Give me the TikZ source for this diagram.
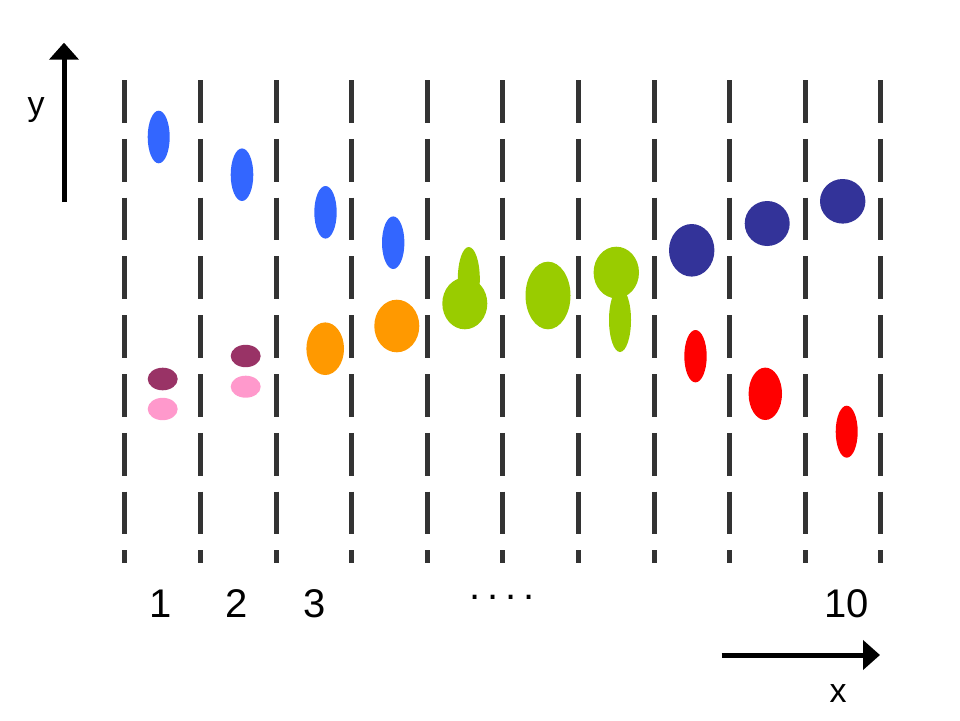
\documentclass[tikz,border=0pt]{standalone}
\usepackage{fontspec}
\setmainfont{Liberation Sans}
\usetikzlibrary{arrows.meta,shapes.geometric}
\definecolor{cblue}{HTML}{3366FF}
\definecolor{cmaroon}{HTML}{993366}
\definecolor{cpink}{HTML}{FF99CC}
\definecolor{corange}{HTML}{FF9900}
\definecolor{cgreen}{HTML}{99CC00}
\definecolor{cnavy}{HTML}{333399}
\definecolor{cred}{HTML}{FF0000}
\definecolor{cgrid}{HTML}{333333}
\tikzset{
  blob/.style={ellipse, inner sep=0pt, outer sep=0pt, draw=none},
  bl/.style 2 args={blob, minimum width=#1pt, minimum height=#2pt},
  gridline/.style={draw=cgrid, line width=5pt, dash pattern=on 42.8pt off 16pt},
  axis/.style={line width=5pt, -{Triangle[length=17pt,width=29pt]}},
  numlab/.style={font=\fontsize{40}{40}\selectfont, anchor=base, inner sep=0pt},
  axlab/.style={font=\fontsize{34}{34}\selectfont, anchor=base, inner sep=0pt}
}
\begin{document}
\begin{tikzpicture}[x=1pt,y=-1pt]
\useasboundingbox (0,0) rectangle (960,720);
% dashed column lines
\foreach \i/\xx in {0/124.5,1/200,2/276,3/351.5,4/427,5/502.5,6/578,7/654,8/729.5,9/805,10/880.5}{
  \coordinate (t\i) at (\xx,80);
  \coordinate (b\i) at (\xx,563);
  \draw[gridline] (t\i) -- (b\i);
}
% column 1
\node[bl={22}{52.6}, fill=cblue] (blue1) at (158.7,137) {};
\node[bl={30}{22.6}, fill=cmaroon] (mar1) at (162.7,379) {};
\node[bl={30}{22.4}, fill=cpink] (pink1) at (162.7,409) {};
% column 2
\node[bl={22.6}{52.6}, fill=cblue] (blue2) at (242,174.7) {};
\node[bl={30}{22.4}, fill=cmaroon] (mar2) at (245.7,356) {};
\node[bl={30}{22}, fill=cpink] (pink2) at (245.7,386.7) {};
% column 3
\node[bl={22.4}{52.6}, fill=cblue] (blue3) at (325.5,212.3) {};
\node[bl={37.6}{52.6}, fill=corange] (or3) at (325.2,348.7) {};
% column 4
\node[bl={22.4}{52.6}, fill=cblue] (blue4) at (393.2,242.7) {};
\node[bl={45}{52.6}, fill=corange] (or4) at (396.8,326) {};
% column 5
\node[bl={22}{64}, fill=cgreen] (gs5) at (468.8,279) {};
\node[bl={45}{51.6}, fill=cgreen] (gb5) at (464.8,303.5) {};
% column 6
\node[bl={45}{67.6}, fill=cgreen] (gb6) at (548,295.5) {};
% column 7
\node[bl={22}{64}, fill=cgreen] (gs7) at (620,320) {};
\node[bl={45.4}{51.6}, fill=cgreen] (gb7) at (616.3,272.5) {};
% column 8
\node[bl={45.4}{52.6}, fill=cnavy] (nv8) at (691.7,250.3) {};
\node[bl={22.4}{52.4}, fill=cred] (rd8) at (695.5,356.2) {};
% column 9
\node[bl={45}{45}, fill=cnavy] (nv9) at (767.2,223.5) {};
\node[bl={33.4}{52.4}, fill=cred] (rd9) at (765.3,393.8) {};
% column 10
\node[bl={45.4}{44.6}, fill=cnavy] (nv10) at (842.7,201.3) {};
\node[bl={22}{52}, fill=cred] (rd10) at (846.7,431.7) {};
% numbers
\node[numlab] (n1) at (161,617) {1};
\node[numlab] (n2) at (236.7,617) {2};
\node[numlab] (n3) at (315,617) {3};
\node[numlab] (ndots) at (502,599) {.\hspace{7pt}.\hspace{7pt}.\hspace{7pt}.};
\node[numlab] (n10) at (846.7,617) {10};
% axes
\coordinate (ybot) at (64,202);
\coordinate (ytop) at (64,42.7);
\draw[axis] (ybot) -- (ytop);
\node[axlab] (ylab) at (36,115) {y};
\coordinate (xleft) at (721.7,655);
\coordinate (xright) at (880,655);
\draw[axis] (xleft) -- (xright);
\node[axlab] (xlab) at (838,702) {x};
\end{tikzpicture}
\end{document}
